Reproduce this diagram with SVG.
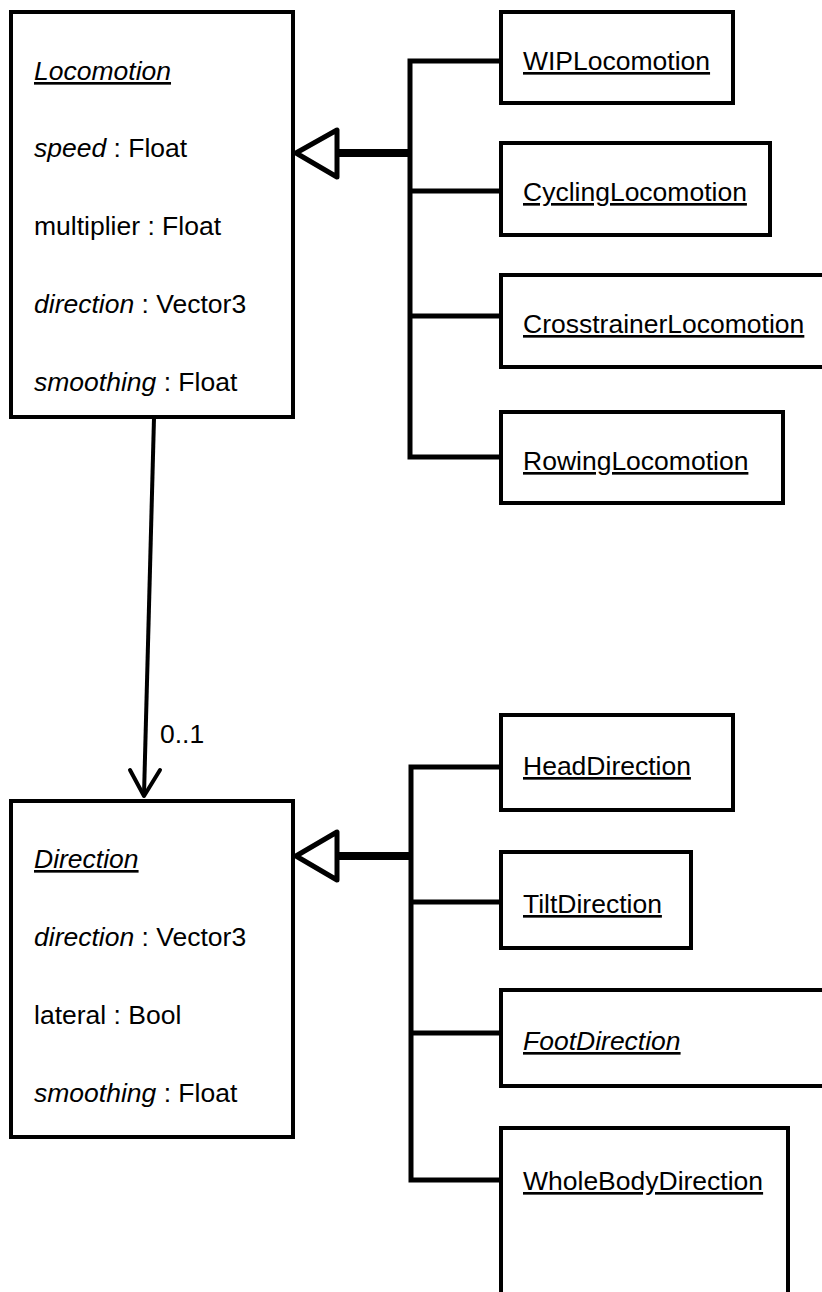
<svg xmlns="http://www.w3.org/2000/svg" width="822" height="1292" viewBox="0 0 822 1292">
<style>
.box{fill:#fff;stroke:#000;stroke-width:4}
text{font-family:"Liberation Sans",Arial,sans-serif;font-size:26.5px;fill:#000}
.u{text-decoration:underline}
.i{font-style:italic}
.bus{fill:none;stroke:#000;stroke-width:5;stroke-linejoin:miter}
.thick{stroke:#000;stroke-width:8;fill:none}
.tri{fill:#fff;stroke:#000;stroke-width:5;stroke-linejoin:round}
.assoc{stroke:#000;stroke-width:4;fill:none}
</style>
<g id="connectors">
  <path class="bus" d="M501,61 H410 V457 H501 M410,191 H501 M410,316 H501"/>
  <path class="thick" d="M336,153 H410"/>
  <polygon class="tri" points="296,153 337,130 337,177"/>
  <path class="bus" d="M501,767 H411 V1180 H501 M411,902 H501 M411,1033 H501"/>
  <path class="thick" d="M336,856 H411"/>
  <polygon class="tri" points="296,856 337,832 337,880"/>
  <path class="assoc" d="M154,418 L144,795"/>
  <path class="assoc" d="M130,770 L144,796 L160,770" stroke-linejoin="round" stroke-linecap="round"/>
  <text x="160" y="743">0..1</text>
</g>
<g id="Locomotion">
  <rect class="box" x="11" y="12" width="282" height="405"/>
  <text x="34" y="80" class="u i">Locomotion</text>
  <text x="34" y="157"><tspan class="i">speed</tspan> : Float</text>
  <text x="34" y="235">multiplier : Float</text>
  <text x="34" y="313"><tspan class="i">direction</tspan> : Vector3</text>
  <text x="34" y="391"><tspan class="i">smoothing</tspan> : Float</text>
</g>
<g id="WIPLocomotion">
  <rect class="box" x="501" y="12" width="232" height="91"/>
  <text x="523" y="70" class="u">WIPLocomotion</text>
</g>
<g id="CyclingLocomotion">
  <rect class="box" x="501" y="143" width="269" height="92"/>
  <text x="523" y="201" class="u">CyclingLocomotion</text>
</g>
<g id="CrosstrainerLocomotion">
  <rect class="box" x="501" y="275" width="330" height="92"/>
  <text x="523" y="333" class="u">CrosstrainerLocomotion</text>
</g>
<g id="RowingLocomotion">
  <rect class="box" x="501" y="412" width="282" height="91"/>
  <text x="523" y="470" class="u">RowingLocomotion</text>
</g>
<g id="Direction">
  <rect class="box" x="11" y="801" width="282" height="336"/>
  <text x="34" y="868" class="u i">Direction</text>
  <text x="34" y="946"><tspan class="i">direction</tspan> : Vector3</text>
  <text x="34" y="1024">lateral : Bool</text>
  <text x="34" y="1102"><tspan class="i">smoothing</tspan> : Float</text>
</g>
<g id="HeadDirection">
  <rect class="box" x="501" y="715" width="232" height="95"/>
  <text x="523" y="775" class="u">HeadDirection</text>
</g>
<g id="TiltDirection">
  <rect class="box" x="501" y="852" width="190" height="96"/>
  <text x="523" y="913" class="u">TiltDirection</text>
</g>
<g id="FootDirection">
  <rect class="box" x="501" y="990" width="330" height="96"/>
  <text x="523" y="1050" class="u i">FootDirection</text>
</g>
<g id="WholeBodyDirection">
  <rect class="box" x="501" y="1128" width="287" height="180"/>
  <text x="523" y="1190" class="u">WholeBodyDirection</text>
</g>
</svg>
